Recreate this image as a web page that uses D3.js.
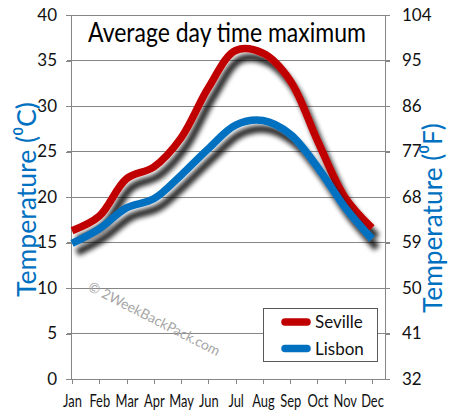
<!DOCTYPE html>
<html>
<head>
<meta charset="utf-8">
<script src="https://cdn.jsdelivr.net/npm/d3@7"></script>
<style>
html,body{margin:0;padding:0;background:#fff;}
svg{display:block;}
</style>
</head>
<body>
<svg id="chart" width="450" height="420"></svg>
<script>
const months = ["Jan","Feb","Mar","Apr","May","Jun","Jul","Aug","Sep","Oct","Nov","Dec"];
const seville = [16.3, 17.9, 22.0, 23.3, 26.5, 32.0, 36.1, 35.8, 32.8, 26.2, 20.0, 16.6];
const lisbon  = [14.9, 16.5, 18.8, 19.8, 22.4, 25.3, 27.9, 28.4, 26.9, 23.3, 18.9, 15.4];
const celsiusTicks = [0, 5, 10, 15, 20, 25, 30, 35, 40];
const fahrenheitTicks = [32, 41, 50, 59, 68, 77, 86, 95, 104];
const seriesNames = ["Seville", "Lisbon"];
const seriesColors = ["#c00000", "#0070c0"];

(function(){
const svg = d3.select("#chart");
const pL = 71, pR = 385, pT = 15, pB = 379;

const x = d3.scalePoint().domain(months).range([72, 372]);
const y = d3.scaleLinear().domain([0, 40]).range([pB, pT]);
const yF = d3.scaleLinear().domain([32, 104]).range([pB, pT]);

const defs = svg.append("defs");
const f = defs.append("filter").attr("id","shadow").attr("x","-20%").attr("y","-20%").attr("width","140%").attr("height","160%");
f.append("feGaussianBlur").attr("in","SourceAlpha").attr("stdDeviation",2.6).attr("result","b");
f.append("feOffset").attr("in","b").attr("dx",5).attr("dy",9).attr("result","o");
f.append("feComponentTransfer").attr("in","o").attr("result","s")
  .append("feFuncA").attr("type","linear").attr("slope",0.85);
const m = f.append("feMerge");
m.append("feMergeNode").attr("in","s");
m.append("feMergeNode").attr("in","SourceGraphic");

const gridColor = "#868686";
const numFont = "Lato, 'Open Sans', sans-serif";

// squeeze a text along its own direction to a target length
function fit(sel, target, base) {
  const w = sel.node().getComputedTextLength();
  sel.attr("transform", (base || "") + ` scale(${(target / w).toFixed(4)},1)`);
}

svg.append("g").selectAll("line").data(celsiusTicks.slice(1)).join("line")
  .attr("x1", pL - 4).attr("x2", pR + 5)
  .attr("y1", d => y(d)).attr("y2", d => y(d))
  .attr("stroke", gridColor).attr("stroke-width", 1).attr("shape-rendering","crispEdges");

const gL = svg.append("g").attr("transform", `translate(${pL},0)`)
  .call(d3.axisLeft(y).tickValues(celsiusTicks).tickSize(5).tickPadding(9));
const gR = svg.append("g").attr("transform", `translate(${pR},0)`)
  .call(d3.axisRight(yF).tickValues(fahrenheitTicks).tickSize(5).tickPadding(12));
const gB = svg.append("g").attr("transform", `translate(0,${pB})`)
  .call(d3.axisBottom(x).tickSize(5).tickPadding(11));
gB.select(".domain").attr("d", `M${pL},0H${pR}`);

[gL, gR, gB].forEach(g => {
  g.select(".domain").attr("stroke", gridColor).attr("shape-rendering","crispEdges");
  g.selectAll(".tick line").attr("stroke", gridColor).attr("shape-rendering","crispEdges");
  g.selectAll("text").attr("fill", "#111").attr("font-family", numFont).attr("font-size", 17);
});
gB.selectAll("text").attr("transform", "scale(0.76,1)");

const line = d3.line()
  .x((d, i) => x(months[i]))
  .y(d => y(d))
  .curve(d3.curveCatmullRom.alpha(0.5));

[seville, lisbon].forEach((s, k) => {
  svg.append("path").datum(s)
    .attr("d", line)
    .attr("fill", "none")
    .attr("stroke", seriesColors[k])
    .attr("stroke-width", 7.5)
    .attr("stroke-linecap", "butt")
    .attr("stroke-linejoin", "round")
    .attr("filter", "url(#shadow)");
});

const title = svg.append("text")
  .attr("font-family", numFont).attr("font-size", 27)
  .attr("fill", "#000")
  .text("Average day time maximum");
fit(title, 278, "translate(88,42)");

const tC = svg.append("text")
  .attr("font-family", numFont).attr("font-size", 27)
  .attr("fill", "#0070c0")
  .text("Temperature (⁰C)");
fit(tC, 195, "translate(36,297) rotate(-90)");
const tF = svg.append("text")
  .attr("font-family", numFont).attr("font-size", 27)
  .attr("fill", "#0070c0")
  .text("Temperature (⁰F)");
fit(tF, 190, "translate(442,313) rotate(-90)");

const wm = svg.append("text")
  .attr("font-family", numFont).attr("font-size", 14)
  .attr("fill", "#a6a6a6")
  .text("© 2WeekBackPack.com");
fit(wm, 146, "translate(87,290) rotate(27)");

const lg = svg.append("g");
lg.append("rect").attr("x", 263.5).attr("y", 308.5).attr("width", 114).attr("height", 53)
  .attr("fill", "#fff").attr("stroke", "#595959").attr("stroke-width", 1);
seriesNames.forEach((n, i) => {
  const cy = 322 + i * 26.5;
  lg.append("line").attr("x1", 285).attr("x2", 307).attr("y1", cy).attr("y2", cy)
    .attr("stroke", seriesColors[i]).attr("stroke-width", 7.5).attr("stroke-linecap", "round");
  lg.append("text").attr("x", 315).attr("y", cy + 6)
    .attr("font-family", numFont).attr("font-size", 17)
    .attr("fill", "#111").text(n);
});
})();
</script>
</body>
</html>
